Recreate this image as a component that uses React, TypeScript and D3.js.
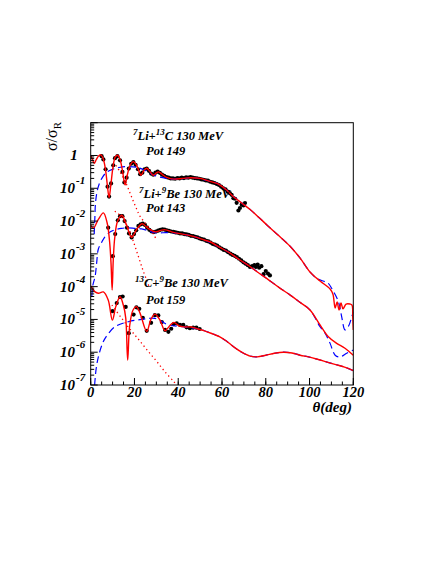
import React from "react";
import * as d3 from "d3";

type P = [number, number];

// 7Li + 13C 130 MeV, Pot 149
const li13cData: P[] = [[5.0,0.95],[5.8,0.76],[6.8,0.38],[7.7,0.112],[8.4,0.056],[9.3,0.141],[10.3,0.50],[11.1,0.83],[12.2,0.95],[13.4,0.71],[14.5,0.316],[15.4,0.151],[16.4,0.21],[17.4,0.40],[18.5,0.56],[19.5,0.63],[20.5,0.52],[21.6,0.38],[22.6,0.27],[23.6,0.30],[24.6,0.38],[25.6,0.40],[26.6,0.34],[27.6,0.28],[28.6,0.26],[29.6,0.30],[30.6,0.32],[31.6,0.295],[32.6,0.26],[33.6,0.24],[34.6,0.22],[35.6,0.21],[36.6,0.20],[37.6,0.20],[38.6,0.195],[39.6,0.204],[40.6,0.20],[41.6,0.21],[42.6,0.204],[43.6,0.214],[44.6,0.21],[45.6,0.22],[46.6,0.21],[47.6,0.204],[48.6,0.20],[49.6,0.195],[50.6,0.186],[51.6,0.182],[52.6,0.174],[53.6,0.17],[54.6,0.158],[55.6,0.151],[56.6,0.145],[57.6,0.135],[58.6,0.126],[59.6,0.112],[60.6,0.10],[61.6,0.093],[62.6,0.079],[63.6,0.071],[64.4,0.063],[65.2,0.050],[66.0,0.048],[66.7,0.036],[67.5,0.021],[68.2,0.025],[69.0,0.0316],[69.8,0.030],[70.5,0.0355]];
const li13cFull: P[] = [[0,1.0],[0.8,0.76],[1.6,0.58],[2.6,0.76],[3.7,0.98],[4.7,1.05],[5.7,0.79],[6.7,0.40],[7.6,0.126],[8.4,0.052],[9.2,0.126],[10.2,0.45],[11.2,0.89],[12.2,1.02],[13.3,0.79],[14.5,0.35],[15.7,0.126],[16.7,0.25],[18.0,0.50],[19.5,0.65],[21.0,0.50],[23.0,0.25],[24.3,0.35],[25.6,0.41],[27.0,0.33],[28.6,0.25],[30.0,0.295],[30.9,0.316],[32.0,0.29],[33.2,0.25],[35,0.21],[38,0.19],[42,0.20],[46,0.21],[50,0.20],[54,0.166],[58,0.138],[62,0.089],[65,0.0575],[69,0.0355],[73,0.022],[77,0.0126],[81,0.0071],[86,0.00355],[91,0.00174],[95.7,7.4e-4],[100.2,2.8e-4],[104.8,1.48e-4],[109.4,8.5e-5],[110.7,5.9e-5],[111.7,2.24e-5],[112.6,3.4e-5],[113.5,1.95e-5],[114.4,3.16e-5],[115.3,2.1e-5],[116.7,2.95e-5],[118.5,2.95e-5],[119.4,2.75e-5],[119.75,1.17e-5],[120,4.8e-6]];
const li13cFar: P[] = [[1.6,4.0e-3],[1.9,1.26e-2],[2.2,3.55e-2],[2.9,7.9e-2],[4.0,0.141],[5.5,0.224],[7.5,0.316],[10,0.38],[13,0.43],[17,0.46],[21,0.44],[25,0.35],[29,0.25],[33,0.21],[37,0.19],[42,0.195],[46,0.21],[50,0.195],[54,0.166],[58,0.138],[62,0.089],[65,0.0575],[69,0.0355],[73,0.022],[77,0.0126],[81,0.0071],[86,0.00355],[91,0.00174],[95.7,7.4e-4],[100.2,2.8e-4],[103.3,1.78e-4],[107.1,1.41e-4],[108.6,1.26e-4],[110.1,8.9e-5],[113.2,3.5e-5],[114.7,1.2e-5],[116.2,4.8e-6],[117.7,6.0e-6],[119.3,1.2e-5],[120,1.7e-5]];
const li13cNear: P[] = [[11.5,0.5],[13.4,0.316],[15,0.2],[16.5,0.126],[18,0.0708],[19.5,0.0398],[21,0.0234],[22.5,0.0141],[24.8,0.0089],[27.9,0.0048],[30.2,0.0026]];

// 7Li + 9Be 130 MeV, Pot 143
const li9beData: P[] = [[8.0,6.3e-3],[10.1,8.5e-4],[11.2,4.0e-3],[12.4,1.05e-2],[13.4,1.41e-2],[14.5,1.41e-2],[15.5,1.0e-2],[16.6,6.3e-3],[17.5,4.2e-3],[18.7,3.16e-3],[19.8,4.0e-3],[20.8,5.2e-3],[21.8,7.1e-3],[22.8,7.9e-3],[23.8,8.3e-3],[24.8,7.6e-3],[25.8,6.3e-3],[26.8,5.4e-3],[27.8,4.8e-3],[28.8,4.6e-3],[29.8,4.8e-3],[30.8,5.1e-3],[31.8,5.4e-3],[32.8,5.6e-3],[33.8,5.5e-3],[34.8,5.2e-3],[35.8,5.0e-3],[36.8,4.8e-3],[37.8,4.7e-3],[38.8,4.5e-3],[39.8,4.4e-3],[40.8,4.2e-3],[41.8,4.2e-3],[42.8,4.0e-3],[43.8,3.9e-3],[44.8,3.8e-3],[45.8,3.55e-3],[46.8,3.5e-3],[47.8,3.3e-3],[48.8,3.16e-3],[49.8,2.95e-3],[50.8,2.8e-3],[51.8,2.7e-3],[52.8,2.5e-3],[53.8,2.4e-3],[54.8,2.2e-3],[55.8,2.0e-3],[56.8,1.9e-3],[57.8,1.78e-3],[58.8,1.58e-3],[59.8,1.45e-3],[60.8,1.32e-3],[61.8,1.26e-3],[62.8,1.12e-3],[63.8,1.02e-3],[64.8,9.3e-4],[65.8,8.7e-4],[66.8,7.9e-4],[67.8,7.1e-4],[68.8,6.3e-4],[69.8,5.5e-4],[70.8,5.0e-4],[71.8,4.5e-4],[72.8,4.0e-4],[73.8,4.2e-4],[74.8,4.5e-4],[75.5,4.0e-4],[76.3,4.7e-4],[77.0,3.8e-4],[78.0,4.2e-4],[79.0,2.4e-4],[80.0,3.0e-4],[81.0,2.5e-4],[81.9,2.2e-4]];
const li9beFull: P[] = [[0,7.6e-3],[1.2,6.0e-3],[3.5,1.12e-2],[5.8,1.78e-2],[7.5,8.9e-3],[8.6,2.5e-3],[9.3,5.0e-4],[9.8,7.9e-5],[10.3,6.3e-4],[11,3.16e-3],[12.3,1.0e-2],[14.2,1.51e-2],[16.5,7.1e-3],[18.7,3.16e-3],[21,5.6e-3],[23.5,8.3e-3],[26.2,6.0e-3],[29.4,4.7e-3],[32,5.2e-3],[34,5.4e-3],[37,4.7e-3],[40,4.2e-3],[44,3.8e-3],[47.7,3.3e-3],[52.2,2.6e-3],[54.5,2.34e-3],[59,1.58e-3],[63.7,1.05e-3],[68,6.6e-4],[72.8,4.1e-4],[76.5,2.7e-4],[80.4,1.78e-4],[86,9.5e-5],[91.2,5.5e-5],[95.7,3.3e-5],[100.2,1.95e-5],[104.8,6.8e-6],[108.6,2.95e-6],[112.4,1.86e-6],[116.2,1.32e-6],[120,8.1e-7]];
const li9beFar: P[] = [[0.5,5.0e-5],[1.0,1.12e-4],[2.0,2.0e-4],[2.7,5.1e-4],[3.5,1.41e-3],[5.0,2.24e-3],[6.5,3.3e-3],[9.0,4.7e-3],[11.1,5.4e-3],[14,6.0e-3],[17.2,6.2e-3],[20,6.0e-3],[23.3,5.75e-3],[26.5,5.0e-3],[29.4,4.4e-3],[33,4.4e-3],[37,4.4e-3],[40,4.2e-3],[44,3.8e-3],[47.7,3.3e-3],[52.2,2.6e-3],[59,1.58e-3],[63.7,1.05e-3],[68,6.6e-4],[72.8,4.1e-4],[80.4,1.78e-4],[86,9.5e-5],[91.2,5.5e-5],[95.7,3.3e-5],[100.2,1.95e-5],[104.8,6.0e-6],[107.1,3.8e-6],[109.4,1.86e-6],[111.7,8.1e-7],[113.9,7.2e-7],[117,9.3e-7],[120,1.17e-6]];
const li9beNear: P[] = [[11,2.0e-2],[13,1.58e-2],[15,1.07e-2],[16.5,7.6e-3],[18,4.7e-3],[19.5,2.4e-3],[21,1.2e-3],[22.5,6.0e-4],[24,3.0e-4],[25.6,1.58e-4],[26.8,9.5e-5]];

// 13C + 9Be 130 MeV, Pot 159
const c13beData: P[] = [[10.0,1.78e-5],[11.9,3.16e-5],[13.4,4.8e-5],[14.6,5.0e-5],[16.0,2.4e-5],[17.4,3.8e-6],[19.6,1.41e-5],[20.9,2.34e-5],[22.2,2.1e-5],[23.8,1.12e-5],[25.6,4.5e-6],[27.6,7.9e-6],[29.3,1.35e-5],[30.9,1.32e-5],[32.5,8.3e-6],[34.0,4.8e-6],[35.5,4.2e-6],[36.8,5.2e-6],[37.9,7.2e-6],[39.3,7.6e-6],[40.8,6.8e-6],[42.3,6.8e-6],[43.8,5.75e-6],[45.3,5.4e-6],[46.8,5.6e-6],[48.3,5.6e-6],[49.8,5.1e-6]];
const c13beFull: P[] = [[0,1.05e-4],[2,6.9e-5],[3.5,6.3e-5],[5.8,6.9e-5],[8,3.9e-5],[9.9,9.5e-6],[11.5,2.5e-5],[13.4,4.9e-5],[14.9,2.75e-5],[16.0,1.12e-5],[16.9,5.75e-7],[17.8,6.3e-6],[19.3,1.9e-5],[20.9,2.45e-5],[22.5,1.58e-5],[25.6,4.3e-6],[27.5,1.0e-5],[29.4,1.45e-5],[31.5,1.0e-5],[34.0,4.5e-6],[36,6.3e-6],[38,8.1e-6],[40.5,6.3e-6],[43,5.9e-6],[46,5.9e-6],[49,5.1e-6],[52,4.5e-6],[56,3.55e-6],[59,2.95e-6],[62,2.2e-6],[65.2,1.48e-6],[69,1.0e-6],[72.8,7.6e-7],[76,7.2e-7],[80,8.1e-7],[84,9.3e-7],[88,1.0e-6],[92,9.5e-7],[95.7,8.1e-7],[100,7.1e-7],[104,6.0e-7],[108,5.0e-7],[112,4.2e-7],[116,3.5e-7],[120,2.75e-7]];
const c13beFar: P[] = [[1.8,1.0e-7],[2.5,3.16e-7],[3.5,7.2e-7],[5,1.58e-6],[6.5,2.6e-6],[11.1,6.0e-6],[17.2,8.5e-6],[23.3,1.0e-5],[29.4,1.07e-5],[35.5,6.8e-6],[42,6.0e-6],[49,5.1e-6],[52,4.5e-6],[56,3.55e-6],[59,2.95e-6],[62,2.2e-6],[65.2,1.48e-6],[69,1.0e-6],[72.8,7.6e-7],[76,7.2e-7],[80,8.1e-7],[84,9.3e-7],[88,1.0e-6],[92,9.5e-7],[95.7,8.1e-7],[100,7.1e-7],[104,6.0e-7],[108,5.0e-7],[112,4.2e-7],[116,3.5e-7],[120,2.75e-7]];
const c13beNear: P[] = [[9.7,2.75e-5],[14,1.12e-5],[18,5.0e-6],[22,2.4e-6],[26,1.12e-6],[30,5.4e-7],[34,2.5e-7],[38,1.26e-7],[39.5,9.5e-8]];

const xTickValues = [0, 20, 40, 60, 80, 100, 120];
const yDecades = [-7, -6, -5, -4, -3, -2, -1, 0];

const FONT = "'Liberation Serif', 'DejaVu Serif', serif";

export default function App() {
  const W = 436, H = 564;
  const L = 90.7, R = 353.3, T = 122.7, B = 385;
  const x = d3.scaleLinear().domain([0, 120]).range([L, R]);
  const y = d3.scaleLog().domain([1e-7, 10]).range([B, T]);
  const line = d3.line<P>().x(d => x(d[0])).y(d => y(d[1])).curve(d3.curveCatmullRom.alpha(0.5));

  const xMinor = d3.range(0, 121, 5);
  const yMinor: number[] = [];
  for (let e = -7; e < 1; e++) for (let m = 2; m <= 9; m++) yMinor.push(m * Math.pow(10, e));

  const fars = [li13cFar, li9beFar, c13beFar];
  const nears = [li13cNear, li9beNear, c13beNear];
  const fulls = [li13cFull, li9beFull, c13beFull];
  const datas = [li13cData, li9beData, c13beData];

  return (
    <svg width={W} height={H} style={{ position: "absolute", left: 0, top: 0, background: "#fff" }}>
      <defs>
        <clipPath id="frame"><rect x={L} y={T} width={R - L} height={B - T} /></clipPath>
      </defs>
      <rect x={0} y={0} width={W} height={H} fill="#fff" />
      <g clipPath="url(#frame)">
        {datas.map((ds, i) => (
          <g key={"d" + i}>
            {ds.map((d, j) => <circle key={j} cx={x(d[0])} cy={y(d[1])} r={2.1} fill="#000" />)}
          </g>
        ))}
        {fars.map((s, i) => <path key={"f" + i} d={line(s) || ""} fill="none" stroke="#0000ff" strokeWidth={1.2} strokeDasharray="7,4" />)}
        {nears.map((s, i) => <path key={"n" + i} d={line(s) || ""} fill="none" stroke="#ff0000" strokeWidth={1.3} strokeDasharray="1.3,3" />)}
        {fulls.map((s, i) => <path key={"r" + i} d={line(s) || ""} fill="none" stroke="#ff0000" strokeWidth={1.4} />)}
      </g>
      <rect x={L} y={T} width={R - L} height={B - T} fill="none" stroke="#000" strokeWidth={1} />
      {/* x ticks */}
      {xMinor.map(v => <line key={"xm" + v} x1={x(v)} x2={x(v)} y1={B} y2={B - 3.5} stroke="#000" strokeWidth={1} />)}
      {xTickValues.map(v => <line key={"xM" + v} x1={x(v)} x2={x(v)} y1={B} y2={B - 7} stroke="#000" strokeWidth={1} />)}
      {xTickValues.map(v => (
        <text key={"xl" + v} x={x(v)} y={397} textAnchor="middle" fontFamily={FONT} fontWeight="bold" fontStyle="italic" fontSize={14.5}>{v}</text>
      ))}
      {/* y ticks */}
      {yMinor.map((v, i) => <line key={"ym" + i} x1={L} x2={L + 3.5} y1={y(v)} y2={y(v)} stroke="#000" strokeWidth={1} />)}
      {yDecades.concat([1]).map(e => <line key={"yM" + e} x1={L} x2={L + 7} y1={y(Math.pow(10, e))} y2={y(Math.pow(10, e))} stroke="#000" strokeWidth={1} />)}
      {yDecades.map(e => e === 0 ? (
        <text key={"yl" + e} x={74} y={y(1) + 5} textAnchor="middle" fontFamily={FONT} fontWeight="bold" fontStyle="italic" fontSize={15}>1</text>
      ) : (
        <text key={"yl" + e} x={60} y={y(Math.pow(10, e)) + 5} fontFamily={FONT} fontWeight="bold" fontStyle="italic" fontSize={15}>
          10<tspan dy={-9} dx={1} fontSize={11}>{e}</tspan>
        </text>
      ))}
      {/* axis titles */}
      <text x={352} y={412} textAnchor="end" fontFamily={FONT} fontWeight="bold" fontStyle="italic" fontSize={15}>θ(deg)</text>
      <text transform="translate(57,122) rotate(-90)" textAnchor="end" fontFamily={FONT} fontSize={16}>
        σ/σ<tspan dy={4} fontSize={11}>R</tspan>
      </text>
      {/* annotations */}
      <g fontFamily={FONT} fontWeight="bold" fontStyle="italic" fontSize={12.5}>
        <text x={133} y={139.5}>
          <tspan dy={-5} fontSize={9}>7</tspan><tspan dy={5}>Li+</tspan><tspan dy={-5} fontSize={9}>13</tspan><tspan dy={5}>C 130 MeV</tspan>
        </text>
        <text x={146} y={155}>Pot 149</text>
        <text x={139} y={198}>
          <tspan dy={-5} fontSize={9}>7</tspan><tspan dy={5}>Li+</tspan><tspan dy={-5} fontSize={9}>9</tspan><tspan dy={5}>Be 130 MeV</tspan>
        </text>
        <text x={146} y={211.5}>Pot 143</text>
        <text x={135} y={287}>
          <tspan dy={-5} fontSize={9}>13</tspan><tspan dy={5}>C+</tspan><tspan dy={-5} fontSize={9}>9</tspan><tspan dy={5}>Be 130 MeV</tspan>
        </text>
        <text x={146} y={303.5}>Pot 159</text>
      </g>
    </svg>
  );
}
